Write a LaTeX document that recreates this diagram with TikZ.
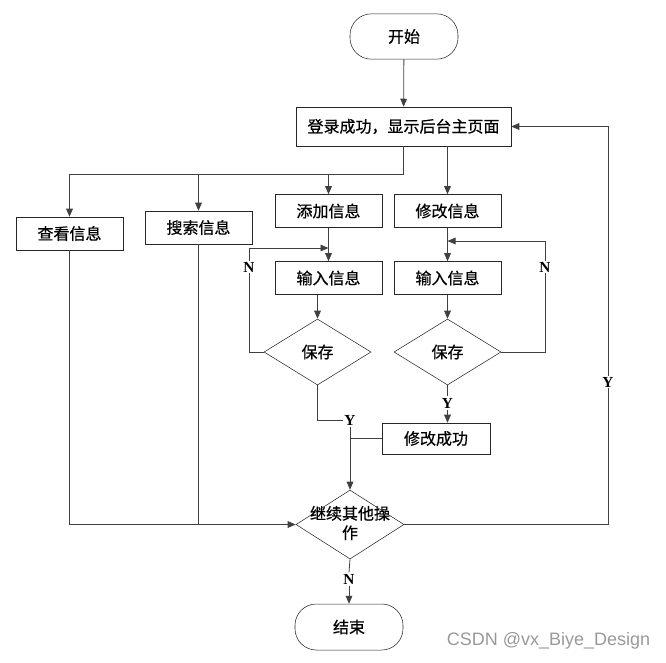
\documentclass[tikz,border=0pt]{standalone}
\usepackage{fontspec}
\setmainfont{Liberation Serif}
\newfontfamily\cjk[FakeBold=0.6]{Noto Sans CJK SC}
\newfontfamily\markfont{Liberation Sans}
\usetikzlibrary{shapes.geometric,arrows.meta}
\begin{document}
\begin{tikzpicture}
            [x=0.75pt,y=-0.75pt,
             Term/.style={draw=black!85,thin,rounded corners=16pt,minimum width=81pt,minimum height=34pt,inner sep=0pt,font=\cjk\fontsize{12}{14.5}\selectfont},
             Box/.style={draw=black!85,thin,minimum width=80.25pt,minimum height=24.75pt,inner sep=0pt,font=\cjk\fontsize{12}{14.5}\selectfont},
             Decision/.style={diamond,draw=black!85,thin,minimum width=80.25pt,minimum height=49.5pt,inner sep=0pt,font=\cjk\fontsize{12}{14.5}\selectfont},
             Label/.style={fill=white,inner sep=1pt,font=\bfseries\fontsize{11.5}{13}\selectfont},
             Line/.style={draw=black!75,line width=0.6pt},
             Arrow/.style={Line,-{Triangle[length=6pt,width=5pt]}},
             Mark/.style={text=black!40,font=\markfont\fontsize{13.5}{15}\selectfont}]
            \useasboundingbox (0,0) rectangle (666,662);
            \node[Term] (start) at (404,36.5) {开始};
            \node[Box,minimum width=161.25pt,minimum height=29.25pt] (login) at (403.5,126.5) {登录成功，显示后台主页面};
            \node[Box] (view) at (69.5,233.5) {查看信息};
            \node[Box] (search) at (198.5,227.5) {搜索信息};
            \node[Box] (add) at (328.5,211) {添加信息};
            \node[Box] (edit) at (447.5,211) {修改信息};
            \node[Box] (input1) at (328.5,278) {输入信息};
            \node[Box] (input2) at (447.5,278) {输入信息};
            \node[Decision] (save1) at (317.5,352) {保存};
            \node[Decision] (save2) at (447.5,352) {保存};
            \node[Box,minimum width=81pt,minimum height=23.25pt] (done) at (436,438.5) {修改成功};
            \node[Decision,minimum width=81pt,minimum height=51.75pt] (more) at (350,524.5) {};
            \node[align=center,font=\cjk\fontsize{12}{14.5}\selectfont] (moretext) at (350,523) {继续其他操\\作};
            \node[Term,minimum height=34.5pt] (stop) at (349,627) {结束};
            \node[Label] (y1) at (350,420) {Y};
            \node[Label] (y2) at (447.5,403) {Y};
            \node[Label] (n3) at (349,579) {N};
            \coordinate (fork) at (403.5,174);
            \coordinate (loop1) at (249,248);
            \coordinate (loop2) at (545,241);
            \coordinate (back) at (608,524.5);
            \draw [Arrow] (start) -- (login);
            \draw [Line] (login.south) -- (fork);
            \draw [Arrow] (fork) -| (view.north);
            \draw [Arrow] (search.north |- fork) -- (search.north);
            \draw [Arrow] (add.north |- fork) -- (add.north);
            \draw [Arrow] (login.south -| edit.north) -- (edit.north);
            \draw [Arrow] (add) -- (input1);
            \draw [Arrow] (edit) -- (input2);
            \draw [Arrow] (input1.south -| save1.north) -- (save1.north);
            \draw [Arrow] (input2) -- (save2);
            \draw [Arrow] (save1.west) -| (loop1) -- (input1.north |- loop1);
            \draw [Arrow] (save2.east) -| (loop2) -- (input2.north |- loop2);
            \draw [Line] (save1.south) |- (y1.west);
            \draw [Arrow] (y1.south) -- (more.north);
            \draw [Line] (save2.south) -- (y2.north);
            \draw [Arrow] (y2.south) -- (y2.south |- done.north);
            \draw [Line] (done.west) -- (done.west -| y1.south);
            \draw [Arrow] (view.south) |- (more.west);
            \draw [Line] (search.south) -- (search.south |- more.west);
            \draw [Arrow] (more.east) -- (back) |- (login.east);
            \draw [Line] (more.south) -- (n3.north);
            \draw [Arrow] (n3.south) -- (n3.south |- stop.north);
            \node[Label] (n1) at (249,267) {N};
            \node[Label] (n2) at (545,267) {N};
            \node[Label] (y3) at (608,382) {Y};
            \node[Mark] (mark) at (548.5,641) {CSDN @vx\_Biye\_Design};
        \end{tikzpicture}
\end{document}
